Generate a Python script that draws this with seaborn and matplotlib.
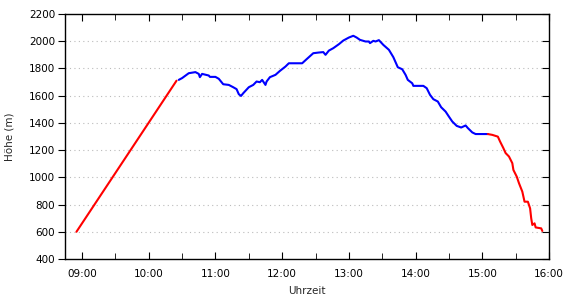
import matplotlib
matplotlib.use("Agg")
import matplotlib.pyplot as plt
import seaborn as sns
import pandas as pd
from matplotlib.ticker import FuncFormatter, MultipleLocator

# --- data (time of day, altitude in m) ---
ascent_time = ["08:55", "10:25"]
ascent_alt = [600, 1710]

hike_time = ["10:27", "10:30", "10:36", "10:42", "10:45", "10:46", "10:48", "10:54", "10:55",
             "11:00", "11:03", "11:07", "11:12", "11:16", "11:19", "11:21", "11:23", "11:25",
             "11:30", "11:34", "11:37", "11:40", "11:42", "11:45", "11:46", "11:49", "11:54",
             "11:58", "12:03", "12:06", "12:12", "12:18", "12:22", "12:28", "12:33", "12:37",
             "12:39", "12:42", "12:46", "12:51", "12:55", "13:00", "13:04", "13:07", "13:10",
             "13:15", "13:18", "13:19", "13:22", "13:24", "13:27", "13:31", "13:36", "13:40",
             "13:44", "13:48", "13:51", "13:53", "13:57", "13:58", "14:07", "14:10", "14:13",
             "14:16", "14:20", "14:23", "14:27", "14:30", "14:33", "14:37", "14:41", "14:45",
             "14:47", "14:51", "14:54", "15:05"]
hike_alt = [1716, 1729, 1765, 1773, 1760, 1736, 1760, 1748, 1738,
            1738, 1724, 1684, 1679, 1662, 1648, 1611, 1598, 1618,
            1662, 1679, 1704, 1699, 1716, 1679, 1704, 1736, 1753,
            1782, 1814, 1838, 1838, 1838, 1868, 1912, 1917, 1920,
            1900, 1931, 1949, 1978, 2005, 2027, 2040, 2027, 2010,
            1998, 1998, 1986, 2003, 1998, 2008, 1973, 1937, 1883,
            1809, 1794, 1753, 1716, 1691, 1672, 1672, 1655, 1606,
            1574, 1557, 1515, 1483, 1446, 1410, 1378, 1366, 1381,
            1362, 1330, 1318, 1318]

descent_time = ["15:05", "15:09", "15:14", "15:16", "15:19", "15:21", "15:24", "15:27", "15:28",
                "15:31", "15:33", "15:36", "15:38", "15:41", "15:43", "15:44", "15:45", "15:47",
                "15:48", "15:53", "15:54"]
descent_alt = [1318, 1312, 1299, 1263, 1214, 1178, 1153, 1104, 1054,
               1005, 957, 895, 821, 821, 772, 699, 650, 662,
               632, 625, 606]

x_ticks = ["09:00", "10:00", "11:00", "12:00", "13:00", "14:00", "15:00", "16:00"]
y_ticks = [400, 600, 800, 1000, 1200, 1400, 1600, 1800, 2000, 2200]


def to_hours(ts):
    out = []
    for t in ts:
        h, m = t.split(":")
        out.append(int(h) + int(m) / 60.0)
    return out


sns.set_style("white")
plt.rcParams["font.family"] = ["DejaVu Sans"]

fig = plt.figure(figsize=(5.7, 3.0), dpi=100)
ax = fig.add_axes([65 / 570, 1 - 259 / 300, (549 - 65) / 570, (259 - 14) / 300])

segments = [(ascent_time, ascent_alt, "#ff0000"),
            (hike_time, hike_alt, "#0000ff"),
            (descent_time, descent_alt, "#ff0000")]
for t, a, c in segments:
    df = pd.DataFrame({"t": to_hours(t), "alt": a})
    sns.lineplot(data=df, x="t", y="alt", ax=ax, color=c, linewidth=1.5,
                 sort=False, estimator=None)

ax.set_xlim(8.745, 16.0)
ax.set_ylim(400, 2200)
ax.set_xticks(to_hours(x_ticks))
ax.xaxis.set_minor_locator(MultipleLocator(0.5))
ax.xaxis.set_major_formatter(FuncFormatter(lambda v, p: f"{int(round(v)):02d}:00"))
ax.set_yticks(y_ticks)

for y in y_ticks[1:-1]:
    ax.axhline(y, color="#bbbbbb", linestyle=(0, (1, 3)), linewidth=0.8, zorder=0)

for s in ax.spines.values():
    s.set_color("black")
    s.set_linewidth(1.0)

ax.tick_params(axis="x", which="both", direction="in", top=True, bottom=True,
               colors="black", labelsize=7.5, pad=7)
ax.tick_params(axis="x", which="major", length=5)
ax.tick_params(axis="x", which="minor", length=4)
ax.tick_params(axis="y", which="major", direction="out", left=True, right=False,
               length=5, pad=2, colors="black", labelsize=7.5)

# inward ticks on the right spine
sec = ax.secondary_yaxis("right")
sec.set_yticks(y_ticks)
sec.tick_params(direction="in", length=5, labelright=False, colors="black")
sec.spines["right"].set_visible(False)

ax.set_xlabel("Uhrzeit", fontsize=7.5)
ax.set_ylabel("Höhe (m)", fontsize=7.5)
ax.xaxis.set_label_coords(0.5, -0.112)
ax.yaxis.set_label_coords(-0.104, 0.5)

fig.savefig("out.png", dpi=100)
